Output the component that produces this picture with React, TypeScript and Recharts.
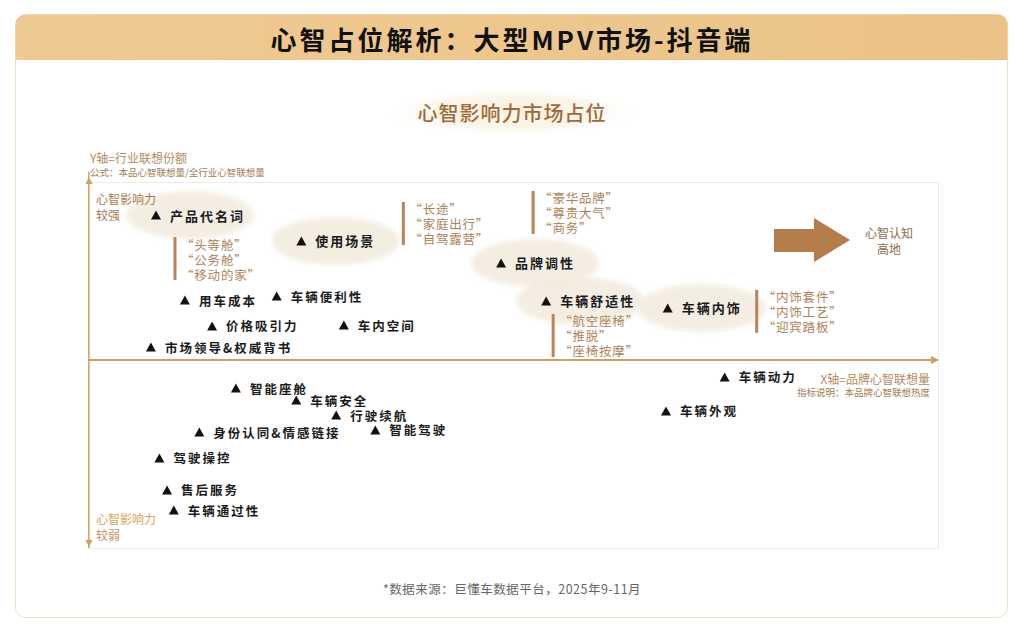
import * as React from "react";
import { ReferenceLine, Scatter, ScatterChart, XAxis, YAxis } from "recharts";

// Key mind-share themes (highlighted with a cream blob and quoted keywords).
const keyNames = ["产品代名词", "使用场景", "品牌调性", "车辆舒适性", "车辆内饰"];
const keyX = [8.0, 25.1, 48.6, 53.9, 68.2];
const keyY = [77.1, 63.3, 51.6, 31.4, 27.7];
const keyQuotes = [
  ["头等舱", "公务舱", "移动的家"],
  ["长途", "家庭出行", "自驾露营"],
  ["豪华品牌", "尊贵大气", "商务"],
  ["航空座椅", "推脱", "座椅按摩"],
  ["内饰套件", "内饰工艺", "迎宾踏板"],
];

// Remaining themes.
const otherNames = [
  "用车成本", "车辆便利性", "价格吸引力", "车内空间", "市场领导&权威背书",
  "智能座舱", "车辆安全", "行驶续航", "身份认同&情感链接", "智能驾驶",
  "驾驶操控", "售后服务", "车辆通过性", "车辆动力", "车辆外观",
];
const otherX = [11.4, 22.2, 14.6, 30.1, 7.4, 17.4, 24.5, 29.2, 13.1, 33.8, 8.4, 9.3, 10.1, 74.9, 68.0];
const otherY = [31.9, 34.0, 18.1, 18.6, 6.9, -14.9, -21.3, -29.3, -38.3, -37.2, -52.1, -69.1, -79.8, -9.0, -27.1];

const TITLE = "心智占位解析：大型MPV市场-抖音端";
const SUBTITLE = "心智影响力市场占位";
const SOURCE = "*数据来源：巨懂车数据平台，2025年9-11月";

// where each quote block sits relative to its marker (bar top-left), px
const QUOTE_OFFSET: [number, number][] = [
  [19, 22],
  [102, -39],
  [32, -72],
  [7, 13],
  [89, -18],
];

const FONT = '"Noto Sans CJK SC", "Noto Sans", sans-serif';
const BROWN = "#ad8258";
const AXIS = "#cf9f64";

const keyPoints = keyNames.map((name, i) => ({ name, x: keyX[i], y: keyY[i], idx: i }));
const otherPoints = otherNames.map((name, i) => ({ name, x: otherX[i], y: otherY[i] }));

function Blob(p: any) {
  return (
    <ellipse cx={p.cx + 34} cy={p.cy} rx={64} ry={24} fill="#f2ebdd" opacity={0.85} filter="url(#soft)" />
  );
}

function Quote(p: any) {
  const i = p.payload.idx as number;
  const [dx, dy] = QUOTE_OFFSET[i];
  const x = p.cx + dx;
  const y = p.cy + dy;
  return (
    <g>
      <rect x={x - 1.5} y={y} width={3} height={43} fill="#b8855a" />
      {keyQuotes[i].map((q, j) => (
        <text
          key={q}
          x={x + 6}
          y={y + 7 + j * 15}
          dominantBaseline="central"
          fontSize={12.5}
          letterSpacing={0.8}
          fill={BROWN}
          fontFamily={FONT}
        >
          {`“${q}”`}
        </text>
      ))}
    </g>
  );
}

function Marker(bold: boolean) {
  return (p: any) => (
    <g>
      <polygon
        points={`${p.cx - 5},${p.cy + 4.5} ${p.cx + 5},${p.cy + 4.5} ${p.cx},${p.cy - 4.5}`}
        fill="#111"
      />
      <text
        x={p.cx + 14}
        y={p.cy}
        dominantBaseline="central"
        fontSize={bold ? 13 : 12.5}
        fontWeight={bold ? 700 : 600}
        letterSpacing={2}
        fill="#1a1a1a"
        fontFamily={FONT}
      >
        {p.payload.name}
      </text>
    </g>
  );
}

function Backdrop() {
  return (
    <svg width={1018} height={633} style={{ position: "absolute", left: 0, top: 0 }}>
      <defs>
        <linearGradient id="hdr" x1="0" y1="0" x2="1" y2="0">
          <stop offset="0%" stopColor="#efca92" />
          <stop offset="100%" stopColor="#ebc386" />
        </linearGradient>
        <radialGradient id="glow">
          <stop offset="0%" stopColor="#fbf1df" />
          <stop offset="70%" stopColor="#fcf5ea" />
          <stop offset="100%" stopColor="#ffffff" stopOpacity={0} />
        </radialGradient>
      </defs>
      <rect x={0} y={0} width={1018} height={633} fill="#ffffff" />
      <rect x={15.5} y={14.5} width={992} height={603} rx={10} fill="#fff" stroke="#f0dfc2" />
      <path d="M15.5 60 V24.5 a10 10 0 0 1 10 -10 H997.5 a10 10 0 0 1 10 10 V60 Z" fill="url(#hdr)" />
      <text x={512} y={38} textAnchor="middle" dominantBaseline="central" fontSize={26} fontWeight={700} letterSpacing={3} fill="#111" fontFamily={FONT}>
        {TITLE}
      </text>
      <ellipse cx={512} cy={112} rx={125} ry={24} fill="url(#glow)" />
      <text x={512} y={112} textAnchor="middle" dominantBaseline="central" fontSize={20} fontWeight={500} letterSpacing={1} fill="#9b6b40" fontFamily={FONT}>
        {SUBTITLE}
      </text>
      <text x={90} y={157} fontSize={12} dominantBaseline="central" fill="#b48a5d" fontFamily={FONT}>Y轴=行业联想份额</text>
      <text x={90} y={172} fontSize={9.5} dominantBaseline="central" fill="#a27a52" fontFamily={FONT}>公式：本品心智联想量/全行业心智联想量</text>
      <rect x={88.5} y={182.5} width={850} height={366} fill="none" stroke="#ebebeb" />
      <text x={889} y={232} fontSize={12} textAnchor="middle" dominantBaseline="central" fill="#8d6a4a" fontFamily={FONT}>心智认知</text>
      <text x={889} y={248} fontSize={12} textAnchor="middle" dominantBaseline="central" fill="#8d6a4a" fontFamily={FONT}>高地</text>
      <path d="M774 229 H814 V218 L850 240 L814 262 V252 H774 Z" fill="#b57d4b" />
      <text x={930} y={378} fontSize={12} textAnchor="end" dominantBaseline="central" fill="#b48a5d" fontFamily={FONT}>X轴=品牌心智联想量</text>
      <text x={930} y={392} fontSize={9.5} textAnchor="end" dominantBaseline="central" fill="#a27a52" fontFamily={FONT}>指标说明：本品牌心智联想热度</text>
      <text x={512} y={588} fontSize={12.5} textAnchor="middle" dominantBaseline="central" letterSpacing={0.5} fill="#666" fontFamily={FONT}>
        {SOURCE}
      </text>
    </svg>
  );
}

export default function App() {
  return (
    <div lang="zh-CN" style={{ position: "absolute", left: 0, top: 0, width: 1018, height: 633, fontFamily: FONT }}>
      <Backdrop />
      <svg width={0} height={0} style={{ position: "absolute" }}>
        <defs>
          <filter id="soft" x="-20%" y="-40%" width="140%" height="180%">
            <feGaussianBlur stdDeviation="2.5" />
          </filter>
        </defs>
      </svg>
      <div style={{ position: "absolute", left: 0, top: 0 }}>
        <ScatterChart width={1018} height={633} margin={{ top: 172, right: 80, bottom: 85, left: 88 }}>
          <XAxis type="number" dataKey="x" domain={[0, 100]} hide />
          <YAxis type="number" dataKey="y" domain={[-100, 100]} hide />
          <ReferenceLine y={0} stroke={AXIS} strokeWidth={2} ifOverflow="visible" />
          <ReferenceLine x={0.1} stroke={AXIS} strokeWidth={1.5} segment={[{ x: 0.1, y: 96 }, { x: 0.1, y: -98 }]} ifOverflow="visible" />
          <Scatter data={keyPoints} shape={Blob} isAnimationActive={false} />
          <Scatter data={keyPoints} shape={Quote} isAnimationActive={false} />
          <Scatter data={keyPoints} shape={Marker(true)} isAnimationActive={false} />
          <Scatter data={otherPoints} shape={Marker(false)} isAnimationActive={false} />
        </ScatterChart>
      </div>
      <svg width={1018} height={633} style={{ position: "absolute", left: 0, top: 0, pointerEvents: "none" }}>
        <path d="M939 360 L931 356 L931 364 Z" fill={AXIS} />
        <path d="M89 177 L85.5 184 L92.5 184 Z" fill={AXIS} />
        <path d="M89 547 L85.5 540 L92.5 540 Z" fill={AXIS} />
        <text x={96} y={198} fontSize={12} dominantBaseline="central" fill="#a57a4f" fontFamily={FONT}>心智影响力</text>
        <text x={96} y={214} fontSize={12} dominantBaseline="central" fill="#a57a4f" fontFamily={FONT}>较强</text>
        <text x={96} y={518} fontSize={12} dominantBaseline="central" fill="#d9a15c" fontFamily={FONT}>心智影响力</text>
        <text x={96} y={534} fontSize={12} dominantBaseline="central" fill="#c79460" fontFamily={FONT}>较弱</text>
      </svg>
    </div>
  );
}
